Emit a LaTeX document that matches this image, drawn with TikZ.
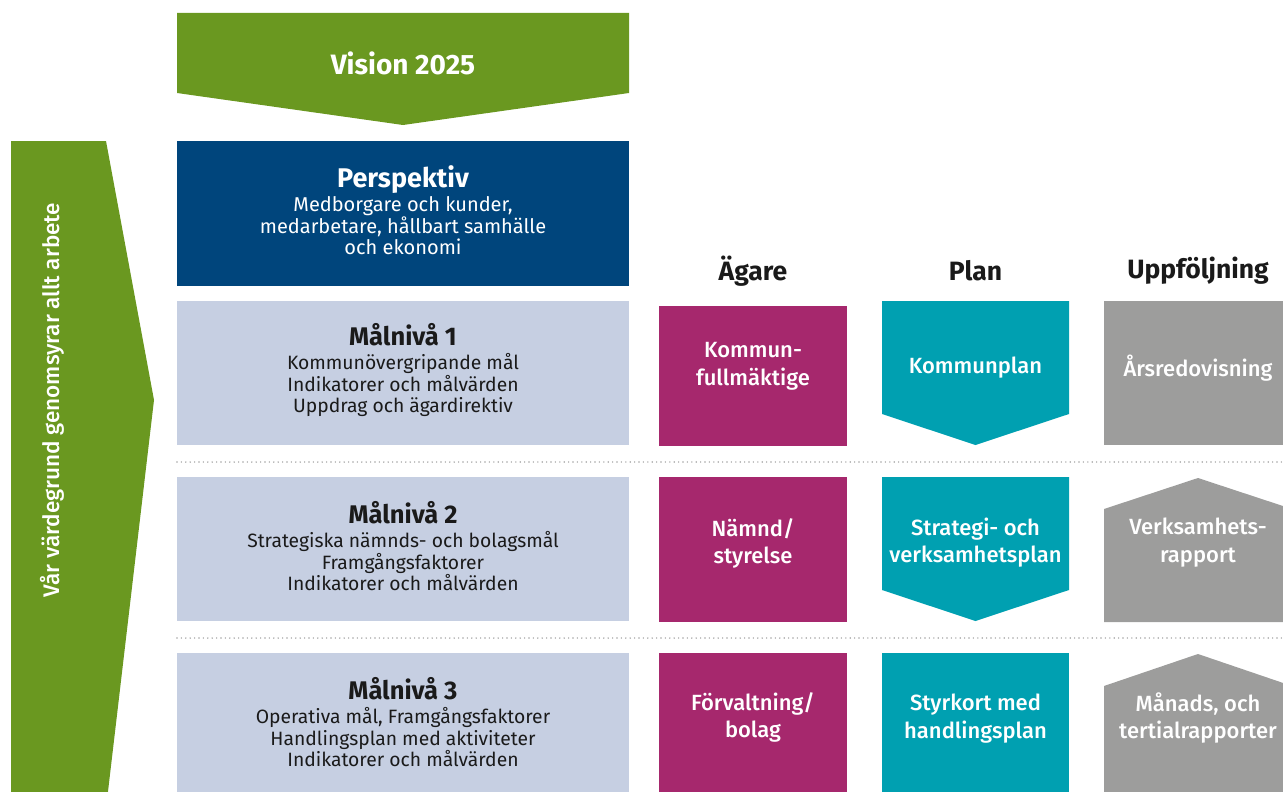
\documentclass[tikz,border=0pt]{standalone}
\usepackage{fontspec}
\setmainfont{Fira Sans}
\newfontfamily\semibf{Fira Sans SemiBold}
\newfontfamily\mediumbf{Fira Sans Medium}
\usetikzlibrary{positioning}
\definecolor{visiongreen}{HTML}{6A9820}
\definecolor{perspblue}{HTML}{00457C}
\definecolor{levelblue}{HTML}{C6CFE2}
\definecolor{ownerred}{HTML}{A6286D}
\definecolor{planteal}{HTML}{00A0B1}
\definecolor{followgray}{HTML}{9D9D9C}
\definecolor{dotgray}{HTML}{A3A3A3}
\definecolor{inkblack}{HTML}{1A1A1A}

\begin{document}
\begin{tikzpicture}[x=1pt,y=-1pt]
\tikzstyle{white text}=[text=white,align=center,font=\mediumbf\fontsize{22}{27.5}\selectfont]
\tikzstyle{level text}=[text=inkblack,align=center,font=\fontsize{19.3}{21.5}\selectfont]
\tikzstyle{head text}=[text=inkblack,font=\bfseries\fontsize{26.5}{30}\selectfont]
\tikzstyle{dots}=[dotgray,line width=1.6pt,dash pattern=on 0pt off 4.4pt,line cap=round]
\useasboundingbox (0,0) rectangle (1283,792);
\clip (0,0) rectangle (1283,792);

% vision and values
\fill[visiongreen] (11,141) -- (106,141) -- (154,400) -- (107,800) -- (11,800) -- cycle;
\node[rotate=90,text=white,font=\mediumbf\fontsize{22.5}{26}\selectfont] (values) at (52,400) {Vår värdegrund genomsyrar allt arbete};
\fill[visiongreen] (177,13) -- (629,13) -- (629,93) -- (403,125) -- (177,93) -- cycle;
\node[text=white,font=\bfseries\fontsize{28}{30}\selectfont] (vision) at (403,63) {Vision 2025};

% perspektiv and goal levels
\fill[perspblue] (177,141) rectangle (629,286);
\node[text=white,align=center,font=\fontsize{20}{21.5}\selectfont] (persp) at (403,210)
  {{\bfseries\fontsize{27}{30}\selectfont Perspektiv}\\[3pt] Medborgare och kunder,\\ medarbetare, hållbart samhälle\\ och ekonomi};
\fill[levelblue] (177,301) rectangle (629,445);
\fill[levelblue] (177,477) rectangle (629,621);
\fill[levelblue] (177,653) rectangle (629,800);
\node[level text] (level1) at (403,370)
  {{\bfseries\fontsize{25.5}{30}\selectfont Målnivå 1}\\[3pt] Kommunövergripande mål\\ Indikatorer och målvärden\\ Uppdrag och ägardirektiv};
\node[level text] (level2) at (403,546)
  {{\bfseries\fontsize{25.5}{30}\selectfont Målnivå 2}\\[3pt] Strategiska nämnds- och bolagsmål\\ Framgångsfaktorer\\ Indikatorer och målvärden};
\node[level text] (level3) at (403,722)
  {{\bfseries\fontsize{25.5}{30}\selectfont Målnivå 3}\\[3pt] Operativa mål, Framgångsfaktorer\\ Handlingsplan med aktiviteter\\ Indikatorer och målvärden};

\draw[dots] (177,462) -- (1283,462);
\draw[dots] (177,638) -- (1283,638);

% columns
\node[head text] (owner) at (753,271) {Ägare};
\node[head text] (plan) at (975.5,271) {Plan};
\node[head text] (follow) at (1198,271) {Uppföljning};

\fill[ownerred] (659,306) rectangle (847,446);
\fill[ownerred] (659,477) rectangle (847,622);
\fill[ownerred] (659,653) rectangle (847,800);
\node[white text] (owner1) at (753,366.5) {Kommun-\\fullmäktige};
\node[white text] (owner2) at (753,543.5) {Nämnd/\\styrelse};
\node[white text] (owner3) at (753,717.5) {Förvaltning/\\bolag};

\fill[planteal] (882,301) -- (1069,301) -- (1069,414) -- (975.5,445) -- (882,414) -- cycle;
\fill[planteal] (882,477) -- (1069,477) -- (1069,590) -- (975.5,621) -- (882,590) -- cycle;
\fill[planteal] (882,653) rectangle (1069,800);
\node[white text] (plan1) at (975.5,368) {Kommunplan};
\node[white text] (plan2) at (975.5,542.5) {Strategi- och\\verksamhetsplan};
\node[white text] (plan3) at (975.5,718.5) {Styrkort med\\handlingsplan};

\fill[followgray] (1104,301) rectangle (1292,445);
\fill[followgray] (1104,509) -- (1198,478) -- (1292,509) -- (1292,622) -- (1104,622) -- cycle;
\fill[followgray] (1104,686) -- (1198,654) -- (1292,686) -- (1292,800) -- (1104,800) -- cycle;
\node[white text] (follow1) at (1198,368) {Årsredovisning};
\node[white text] (follow2) at (1198,542.5) {Verksamhets-\\rapport};
\node[white text] (follow3) at (1198,718) {Månads, och\\tertialrapporter};
\end{tikzpicture}
\end{document}
